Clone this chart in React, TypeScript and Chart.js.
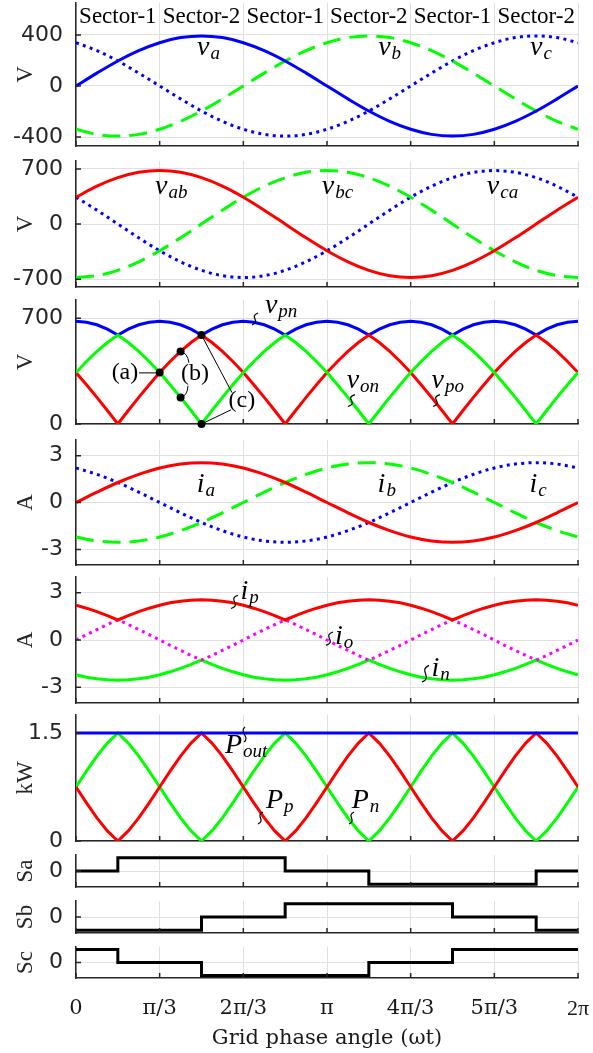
import React, { useEffect, useRef } from 'react';
import { Chart, registerables } from 'chart.js';

Chart.register(...registerables);

const FIG_W = 593;
const FIG_H = 1053;
const AXIS_RIGHT = 578;
const Y_AXIS_W = 76;
const PAD = 20;

const BLUE = '#0000ff';
const GREEN = '#00ff00';
const RED = '#ff0000';
const MAGENTA = '#ff00ff';
const BLACK = '#000000';
const GRID = '#e0e0e0';
const AXIS = '#262626';
const DASH = [18, 9];
const DOT = [3, 4.3];

// ---------------- data ----------------
// coarse grid (15 deg) for the sinusoids
const angleDeg = [0, 15, 30, 45, 60, 75, 90, 105, 120, 135, 150, 165, 180, 195, 210, 225, 240, 255, 270, 285, 300, 315, 330, 345, 360];
// fine grid (7.5 deg) for the piece-wise waveforms
const angleFine = [
  0, 7.5, 15, 22.5, 30, 37.5, 45, 52.5, 60, 67.5, 75, 82.5, 90, 97.5, 105, 112.5, 120, 127.5, 135, 142.5, 150, 157.5, 165, 172.5,
  180, 187.5, 195, 202.5, 210, 217.5, 225, 232.5, 240, 247.5, 255, 262.5, 270, 277.5, 285, 292.5, 300, 307.5, 315, 322.5, 330, 337.5, 345, 352.5, 360,
];

const va = [0, 101, 196, 277, 339, 379, 392, 379, 339, 277, 196, 101, 0, -101, -196, -277, -339, -379, -392, -379, -339, -277, -196, -101, 0];
const vb = [-339, -379, -392, -379, -339, -277, -196, -101, 0, 101, 196, 277, 339, 379, 392, 379, 339, 277, 196, 101, 0, -101, -196, -277, -339];
const vc = [339, 277, 196, 101, 0, -101, -196, -277, -339, -379, -392, -379, -339, -277, -196, -101, 0, 101, 196, 277, 339, 379, 392, 379, 339];

const vab = [340, 480, 588, 656, 679, 656, 588, 480, 340, 176, 0, -176, -340, -480, -588, -656, -679, -656, -588, -480, -340, -176, 0, 176, 340];
const vbc = [-679, -656, -588, -480, -340, -176, 0, 176, 340, 480, 588, 656, 679, 656, 588, 480, 340, 176, 0, -176, -340, -480, -588, -656, -679];
const vca = [340, 176, 0, -176, -340, -480, -588, -656, -679, -656, -588, -480, -340, -176, 0, 176, 340, 480, 588, 656, 679, 656, 588, 480, 340];

const vpn = [
  679, 673, 656, 627, 588, 627, 656, 673, 679, 673, 656, 627, 588, 627, 656, 673, 679, 673, 656, 627, 588, 627, 656, 673,
  679, 673, 656, 627, 588, 627, 656, 673, 679, 673, 656, 627, 588, 627, 656, 673, 679, 673, 656, 627, 588, 627, 656, 673, 679,
];
const vpo = [
  340, 260, 176, 89, 0, 89, 176, 260, 340, 413, 480, 539, 588, 539, 480, 413, 340, 260, 176, 89, 0, 89, 176, 260,
  340, 413, 480, 539, 588, 539, 480, 413, 340, 260, 176, 89, 0, 89, 176, 260, 340, 413, 480, 539, 588, 539, 480, 413, 340,
];
const von = [
  340, 413, 480, 539, 588, 539, 480, 413, 340, 260, 176, 89, 0, 89, 176, 260, 340, 413, 480, 539, 588, 539, 480, 413,
  340, 260, 176, 89, 0, 89, 176, 260, 340, 413, 480, 539, 588, 539, 480, 413, 340, 260, 176, 89, 0, 89, 176, 260, 340,
];

const markAngle = [60, 75, 75, 90, 90];
const markValue = [340, 480, 176, 588, 0];

const ia = [0, 0.66, 1.28, 1.8, 2.21, 2.46, 2.55, 2.46, 2.21, 1.8, 1.28, 0.66, 0, -0.66, -1.28, -1.8, -2.21, -2.46, -2.55, -2.46, -2.21, -1.8, -1.28, -0.66, 0];
const ib = [-2.21, -2.46, -2.55, -2.46, -2.21, -1.8, -1.28, -0.66, 0, 0.66, 1.28, 1.8, 2.21, 2.46, 2.55, 2.46, 2.21, 1.8, 1.28, 0.66, 0, -0.66, -1.28, -1.8, -2.21];
const ic = [2.21, 1.8, 1.28, 0.66, 0, -0.66, -1.28, -1.8, -2.21, -2.46, -2.55, -2.46, -2.21, -1.8, -1.28, -0.66, 0, 0.66, 1.28, 1.8, 2.21, 2.46, 2.55, 2.46, 2.21];

const ip = [
  2.21, 2.02, 1.8, 1.55, 1.27, 1.55, 1.8, 2.02, 2.21, 2.36, 2.46, 2.53, 2.55, 2.53, 2.46, 2.36, 2.21, 2.02, 1.8, 1.55, 1.27, 1.55, 1.8, 2.02,
  2.21, 2.36, 2.46, 2.53, 2.55, 2.53, 2.46, 2.36, 2.21, 2.02, 1.8, 1.55, 1.27, 1.55, 1.8, 2.02, 2.21, 2.36, 2.46, 2.53, 2.55, 2.53, 2.46, 2.36, 2.21,
];
const io = [
  0, 0.34, 0.66, 0.98, 1.28, 0.98, 0.66, 0.34, 0, -0.34, -0.66, -0.98, -1.28, -0.98, -0.66, -0.34, 0, 0.34, 0.66, 0.98, 1.28, 0.98, 0.66, 0.34,
  0, -0.34, -0.66, -0.98, -1.28, -0.98, -0.66, -0.34, 0, 0.34, 0.66, 0.98, 1.28, 0.98, 0.66, 0.34, 0, -0.34, -0.66, -0.98, -1.28, -0.98, -0.66, -0.34, 0,
];
const inn = [
  -2.21, -2.36, -2.46, -2.53, -2.55, -2.53, -2.46, -2.36, -2.21, -2.02, -1.8, -1.55, -1.27, -1.55, -1.8, -2.02, -2.21, -2.36, -2.46, -2.53, -2.55, -2.53, -2.46, -2.36,
  -2.21, -2.02, -1.8, -1.55, -1.27, -1.55, -1.8, -2.02, -2.21, -2.36, -2.46, -2.53, -2.55, -2.53, -2.46, -2.36, -2.21, -2.02, -1.8, -1.55, -1.27, -1.55, -1.8, -2.02, -2.21,
];

const poutAngle = [0, 360];
const pout = [1.5, 1.5];
const pp = [
  0.75, 0.53, 0.32, 0.14, 0, 0.14, 0.32, 0.53, 0.75, 0.97, 1.18, 1.36, 1.5, 1.36, 1.18, 0.97, 0.75, 0.53, 0.32, 0.14, 0, 0.14, 0.32, 0.53,
  0.75, 0.97, 1.18, 1.36, 1.5, 1.36, 1.18, 0.97, 0.75, 0.53, 0.32, 0.14, 0, 0.14, 0.32, 0.53, 0.75, 0.97, 1.18, 1.36, 1.5, 1.36, 1.18, 0.97, 0.75,
];
const pn = [
  0.75, 0.97, 1.18, 1.36, 1.5, 1.36, 1.18, 0.97, 0.75, 0.53, 0.32, 0.14, 0, 0.14, 0.32, 0.53, 0.75, 0.97, 1.18, 1.36, 1.5, 1.36, 1.18, 0.97,
  0.75, 0.53, 0.32, 0.14, 0, 0.14, 0.32, 0.53, 0.75, 0.97, 1.18, 1.36, 1.5, 1.36, 1.18, 0.97, 0.75, 0.53, 0.32, 0.14, 0, 0.14, 0.32, 0.53, 0.75,
];

const swAngle = [0, 30, 90, 150, 210, 270, 330, 360];
const sa = [0, 1, 1, 0, -1, -1, 0, 0];
const sb = [-1, -1, 0, 1, 1, 0, -1, -1];
const sc = [1, 0, -1, -1, 0, 1, 1, 1];

const xTickValues = [0, 60, 120, 180, 240, 300, 360];
const xTickLabels = ['0', 'π/3', '2π/3', 'π', '4π/3', '5π/3', '2π'];
const xTitle = 'Grid phase angle (ωt)';
const sectorLabels = ['Sector-1', 'Sector-2', 'Sector-1', 'Sector-2', 'Sector-1', 'Sector-2'];
const sectorCenters = [30, 90, 150, 210, 270, 330];

// ---------------- helpers ----------------
const pts = (xs: number[], ys: number[]) => xs.map((x, i) => ({ x, y: ys[i] }));

const line = (xs: number[], ys: number[], color: string, extra: any = {}) => ({
  data: pts(xs, ys),
  borderColor: color,
  backgroundColor: color,
  borderWidth: 3,
  pointRadius: 0,
  fill: false,
  tension: 0,
  borderCapStyle: 'butt',
  ...extra,
});

const smooth = { cubicInterpolationMode: 'monotone' };

type MathLabel = { x: number; y: number; main: string; sub: string };
type Seg = [number, number, number, number];

type PanelSpec = {
  top: number;
  bottom: number;
  min: number;
  max: number;
  yTicks: number[];
  yTitle: string;
  datasets: any[];
  labels?: MathLabel[];
  squiggles?: Seg[];
  sectors?: boolean;
  points?: boolean;
  last?: boolean;
};

const PANELS: PanelSpec[] = [
  {
    top: 3, bottom: 146, min: -470, max: 650, yTicks: [-400, 0, 400], yTitle: 'V', sectors: true,
    datasets: [
      line(angleDeg, va, BLUE, smooth),
      line(angleDeg, vb, GREEN, { ...smooth, borderDash: DASH }),
      line(angleDeg, vc, BLUE, { ...smooth, borderDash: DOT }),
    ],
    labels: [
      { x: 86.8, y: 242, main: 'v', sub: 'a' },
      { x: 216.7, y: 242, main: 'v', sub: 'b' },
      { x: 325.6, y: 242, main: 'v', sub: 'c' },
    ],
  },
  {
    top: 161, bottom: 287, min: -800, max: 800, yTicks: [-700, 0, 700], yTitle: 'V',
    datasets: [
      line(angleDeg, vab, RED, smooth),
      line(angleDeg, vbc, GREEN, { ...smooth, borderDash: DASH }),
      line(angleDeg, vca, BLUE, { ...smooth, borderDash: DOT }),
    ],
    labels: [
      { x: 56.7, y: 386, main: 'v', sub: 'ab' },
      { x: 176.3, y: 386, main: 'v', sub: 'bc' },
      { x: 294.6, y: 386, main: 'v', sub: 'ca' },
    ],
  },
  {
    top: 300, bottom: 424, min: 0, max: 820, yTicks: [0, 700], yTitle: 'V', points: true,
    datasets: [
      {
        data: pts(markAngle, markValue), showLine: false, pointRadius: 4, pointHoverRadius: 4,
        pointBackgroundColor: BLACK, pointBorderColor: BLACK, pointBorderWidth: 0, borderColor: BLACK, clip: false,
      },
      line(angleFine, von, GREEN),
      line(angleFine, vpo, RED),
      line(angleFine, vpn, BLUE),
    ],
    labels: [
      { x: 135.5, y: 732, main: 'v', sub: 'pn' },
      { x: 194.1, y: 237, main: 'v', sub: 'on' },
      { x: 255, y: 237, main: 'v', sub: 'po' },
    ],
    squiggles: [
      [130.5, 734, 126.2, 655],
      [200.1, 194, 195, 116],
      [261, 194, 256, 116],
    ],
  },
  {
    top: 440, bottom: 565, min: -4, max: 4, yTicks: [-3, 0, 3], yTitle: 'A',
    datasets: [
      line(angleDeg, ia, RED, smooth),
      line(angleDeg, ib, GREEN, { ...smooth, borderDash: DASH }),
      line(angleDeg, ic, BLUE, { ...smooth, borderDash: DOT }),
    ],
    labels: [
      { x: 86.6, y: 0.69, main: 'i', sub: 'a' },
      { x: 216.3, y: 0.69, main: 'i', sub: 'b' },
      { x: 325.2, y: 0.69, main: 'i', sub: 'c' },
    ],
  },
  {
    top: 577, bottom: 703, min: -4, max: 4, yTicks: [-3, 0, 3], yTitle: 'A',
    datasets: [
      line(angleFine, ip, RED),
      line(angleFine, io, MAGENTA, { borderDash: DOT }),
      line(angleFine, inn, GREEN),
    ],
    labels: [
      { x: 118, y: 2.63, main: 'i', sub: 'p' },
      { x: 185.7, y: -0.23, main: 'i', sub: 'o' },
      { x: 255, y: -2.3, main: 'i', sub: 'n' },
    ],
    squiggles: [
      [116.2, 2.84, 111.2, 2.0],
      [184.3, 0.51, 179.3, -0.34],
      [253.2, -1.61, 248.1, -2.67],
    ],
  },
  {
    top: 715, bottom: 841, min: 0, max: 1.75, yTicks: [0, 1.5], yTitle: 'kW',
    datasets: [
      line(poutAngle, pout, BLUE),
      line(angleFine, pp, RED),
      line(angleFine, pn, GREEN),
    ],
    labels: [
      { x: 106.8, y: 1.222, main: 'P', sub: 'out' },
      { x: 136.2, y: 0.458, main: 'P', sub: 'p' },
      { x: 197.7, y: 0.458, main: 'P', sub: 'n' },
    ],
    squiggles: [
      [121.2, 1.583, 120.5, 1.375],
      [134.1, 0.403, 130.5, 0.236],
      [199.4, 0.403, 195.8, 0.236],
    ],
  },
  {
    top: 855, bottom: 887, min: -1.2, max: 1.2, yTicks: [0], yTitle: 'Sa',
    datasets: [line(swAngle, sa, BLACK, { stepped: true })],
  },
  {
    top: 901, bottom: 933, min: -1.2, max: 1.2, yTicks: [0], yTitle: 'Sb',
    datasets: [line(swAngle, sb, BLACK, { stepped: true })],
  },
  {
    top: 947, bottom: 978, min: -1.2, max: 1.2, yTicks: [0], yTitle: 'Sc', last: true,
    datasets: [line(swAngle, sc, BLACK, { stepped: true })],
  },
];

const geom = (p: PanelSpec) => {
  const top = p.top - PAD;
  const bottom = p.last ? FIG_H : p.bottom + PAD;
  return { top, h: bottom - top };
};

const SERIF = '"Liberation Serif", "Times New Roman", serif';

function drawSquiggle(ctx: CanvasRenderingContext2D, ax: number, ay: number, bx: number, by: number) {
  const dy = by - ay;
  const w = Math.max(Math.abs(bx - ax), 4);
  ctx.beginPath();
  ctx.moveTo(ax, ay);
  ctx.bezierCurveTo(ax - w * 1.6, ay + dy * 0.3, bx + w * 1.6, by - dy * 0.3, bx, by);
  ctx.stroke();
}

const overlay = (p: PanelSpec) => ({
  id: 'overlay',
  afterDatasetsDraw(chart: any) {
    const ctx: CanvasRenderingContext2D = chart.ctx;
    const xs = chart.scales.x;
    const ys = chart.scales.y;
    const a = chart.chartArea;
    const X = (v: number) => xs.getPixelForValue(v);
    const Y = (v: number) => ys.getPixelForValue(v);
    ctx.save();

    // inward tick marks (MATLAB style)
    ctx.strokeStyle = AXIS;
    ctx.lineWidth = 1.5;
    ctx.beginPath();
    xTickValues.forEach((v) => {
      const px = X(v);
      ctx.moveTo(px, a.bottom);
      ctx.lineTo(px, a.bottom - 5);
    });
    p.yTicks.forEach((v) => {
      const py = Y(v);
      ctx.moveTo(a.left, py);
      ctx.lineTo(a.left + 5, py);
    });
    ctx.stroke();

    ctx.fillStyle = BLACK;
    ctx.strokeStyle = BLACK;

    if (p.sectors) {
      ctx.font = `23px ${SERIF}`;
      ctx.textAlign = 'center';
      ctx.textBaseline = 'middle';
      sectorCenters.forEach((c, i) => ctx.fillText(sectorLabels[i], X(c), Y(540)));
    }

    (p.labels || []).forEach((l) => {
      const px = X(l.x);
      const py = Y(l.y);
      ctx.textAlign = 'left';
      ctx.textBaseline = 'alphabetic';
      ctx.font = `italic 28px ${SERIF}`;
      ctx.fillText(l.main, px, py);
      const w = ctx.measureText(l.main).width;
      ctx.font = `italic 19px ${SERIF}`;
      ctx.fillText(l.sub, px + w + 1, py + 4);
    });

    ctx.lineWidth = 1.2;
    (p.squiggles || []).forEach((s) => drawSquiggle(ctx, X(s[0]), Y(s[1]), X(s[2]), Y(s[3])));

    if (p.points) {
      ctx.font = `24px ${SERIF}`;
      ctx.textAlign = 'center';
      ctx.textBaseline = 'middle';
      ctx.fillText('(a)', X(35.1), Y(338));
      ctx.fillText('(b)', X(85.3), Y(332));
      ctx.fillText('(c)', X(119), Y(154));
      ctx.lineWidth = 1;
      ctx.beginPath();
      ctx.moveTo(X(45.2), Y(338));
      ctx.lineTo(X(58.5), Y(338));
      ctx.moveTo(X(111.9), Y(207));
      ctx.lineTo(X(90), Y(588));
      ctx.moveTo(X(111.2), Y(94));
      ctx.lineTo(X(90), Y(0));
      ctx.moveTo(X(75), Y(480));
      ctx.quadraticCurveTo(X(80), Y(470), X(81), Y(405));
      ctx.moveTo(X(75), Y(176));
      ctx.quadraticCurveTo(X(80), Y(186), X(80.3), Y(253));
      ctx.stroke();
    }
    ctx.restore();
  },
});

function makeChart(canvas: HTMLCanvasElement, p: PanelSpec) {
  const last = !!p.last;
  return new Chart(canvas, {
    type: 'line',
    data: { datasets: p.datasets },
    plugins: [overlay(p)],
    options: {
      responsive: false,
      animation: false,
      devicePixelRatio: 1,
      events: [],
      layout: { padding: { left: 0, right: FIG_W - AXIS_RIGHT, top: PAD, bottom: last ? 0 : PAD } },
      plugins: { legend: { display: false }, tooltip: { enabled: false } },
      scales: {
        x: {
          type: 'linear',
          min: 0,
          max: 360,
          afterBuildTicks: (s: any) => {
            s.ticks = xTickValues.map((v) => ({ value: v }));
          },
          afterFit: (s: any) => {
            s.height = last ? FIG_H - p.bottom : 0;
            s.paddingLeft = 0;
            s.paddingRight = 0;
          },
          grid: { color: GRID, lineWidth: 1, drawTicks: false },
          border: { display: true, color: AXIS, width: 1.5 },
          ticks: {
            display: last,
            autoSkip: false,
            maxRotation: 0,
            padding: 18,
            color: '#1a1a1a',
            font: (c: any) =>
              c.index === xTickValues.length - 1
                ? { family: SERIF, size: 22 }
                : { family: '"DejaVu Serif", serif', size: 21 },
            callback: (v: any) => xTickLabels[xTickValues.indexOf(Number(v))],
          },
          title: {
            display: last,
            text: xTitle,
            color: '#1a1a1a',
            font: { family: '"DejaVu Serif", serif', size: 21 },
            padding: { top: 0, bottom: 2 },
          },
        },
        y: {
          type: 'linear',
          min: p.min,
          max: p.max,
          afterBuildTicks: (s: any) => {
            s.ticks = p.yTicks.map((v) => ({ value: v }));
          },
          afterFit: (s: any) => {
            s.width = Y_AXIS_W;
            s.paddingTop = 0;
            s.paddingBottom = 0;
          },
          grid: { color: GRID, lineWidth: 1, drawTicks: false },
          border: { display: true, color: AXIS, width: 1.5 },
          ticks: {
            padding: 13,
            color: AXIS,
            font: { family: '"DejaVu Sans", sans-serif', size: 22 },
            callback: (v: any) => String(v),
          },
          title: {
            display: true,
            text: p.yTitle,
            color: AXIS,
            font: { family: SERIF, size: 23 },
            padding: { top: 12, bottom: 0 },
          },
        },
      },
    } as any,
  });
}

export default function App() {
  const refs = useRef<(HTMLCanvasElement | null)[]>([]);
  useEffect(() => {
    const charts = PANELS.map((p, i) => makeChart(refs.current[i] as HTMLCanvasElement, p));
    return () => charts.forEach((c) => c.destroy());
  }, []);
  return (
    <div style={{ position: 'absolute', left: 0, top: 0, width: FIG_W, height: FIG_H, background: '#ffffff', overflow: 'hidden' }}>
      {PANELS.map((p, i) => {
        const g = geom(p);
        return (
          <canvas
            key={i}
            ref={(el) => {
              refs.current[i] = el;
            }}
            width={FIG_W}
            height={g.h}
            style={{ position: 'absolute', left: 0, top: g.top, width: FIG_W, height: g.h, display: 'block' }}
          />
        );
      })}
    </div>
  );
}
